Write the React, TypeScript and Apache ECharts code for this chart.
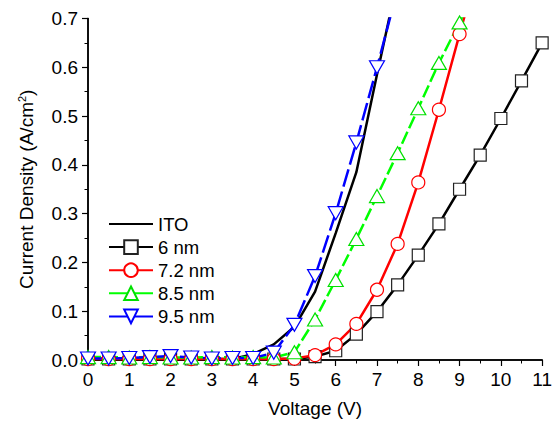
import React, { useEffect, useRef } from "react";
import * as echarts from "echarts";

const voltage = [0, 0.5, 1, 1.5, 2, 2.5, 3, 3.5, 4, 4.5, 5, 5.5, 6, 6.5, 7, 7.5, 8, 8.5, 9, 9.5, 10, 10.5, 11];

const ito = [0.001, 0.001, 0.001, 0.001, 0.001, 0.001, 0.001, 0.002, 0.012, 0.032, 0.068, 0.14, 0.26, 0.385, 0.585, 0.78];
const nm6 = [0.002, 0.002, 0.002, 0.002, 0.002, 0.002, 0.002, 0.002, 0.002, 0.002, 0.002, 0.007, 0.019, 0.053, 0.099, 0.154, 0.215, 0.279, 0.35, 0.42, 0.495, 0.572, 0.65];
const nm72 = [0.002, 0.002, 0.002, 0.002, 0.002, 0.002, 0.002, 0.002, 0.002, 0.002, 0.003, 0.01, 0.032, 0.074, 0.144, 0.238, 0.364, 0.513, 0.668, 0.82];
const nm85 = [0.006, 0.006, 0.005, 0.006, 0.005, 0.005, 0.006, 0.005, 0.006, 0.005, 0.016, 0.083, 0.164, 0.248, 0.336, 0.424, 0.516, 0.609, 0.692, 0.78];
const nm95 = [0.003, 0.003, 0.004, 0.006, 0.008, 0.005, 0.003, 0.004, 0.004, 0.015, 0.072, 0.172, 0.301, 0.446, 0.6, 0.76];

const legendNames = ["ITO", "6 nm", "7.2 nm", "8.5 nm", "9.5 nm"];

const pair = (vals: number[]) => vals.map((v, i) => [voltage[i], v]);

export default function App() {
  const ref = useRef<HTMLDivElement>(null);
  useEffect(() => {
    if (!ref.current) return;
    const chart = echarts.init(ref.current, undefined, { renderer: "svg" });
    const font = "Liberation Sans, Arial, sans-serif";
    const fs = 19;
    const axisLine = { show: true, lineStyle: { color: "#000", width: 1.5 } };
    chart.setOption({
      animation: false,
      textStyle: { fontFamily: font },
      grid: { left: 88, right: 8, top: 18.5, bottom: 66, containLabel: false },
      legend: {
        orient: "vertical",
        left: 103,
        top: 209.5,
        itemWidth: 44,
        itemHeight: 17,
        itemGap: 4.1,
        data: legendNames.map((n) =>
          n === "ITO"
            ? { name: n, itemStyle: { color: "rgba(0,0,0,0)", borderColor: "rgba(0,0,0,0)", borderWidth: 0 } }
            : { name: n }
        ),
        lineStyle: { type: "solid" },
        textStyle: { fontSize: 18.5, color: "#000", fontFamily: font },
        selectedMode: false,
      },
      xAxis: [
        {
          type: "value",
          min: 0,
          max: 11,
          interval: 1,
          position: "bottom",
          name: "Voltage (V)",
          nameLocation: "middle",
          nameGap: 39,
          nameTextStyle: { fontSize: fs, color: "#000", fontFamily: font },
          axisLine,
          axisTick: { show: true, inside: false, length: 6, lineStyle: { color: "#000", width: 1.2 } },
          minorTick: { show: true, splitNumber: 2, length: 3.5, lineStyle: { color: "#000", width: 1 } },
          axisLabel: { fontSize: fs, color: "#000", margin: 10, fontFamily: font },
          splitLine: { show: false },
        },
        {
          type: "value",
          min: 0,
          max: 11,
          interval: 1,
          position: "top",
          axisLine,
          axisTick: { show: true, inside: true, length: 4, lineStyle: { color: "#000", width: 1 } },
          minorTick: { show: true, splitNumber: 2, length: 2.5, lineStyle: { color: "#000", width: 1 } },
          axisLabel: { show: false },
          splitLine: { show: false },
        },
      ],
      yAxis: [
        {
          type: "value",
          min: 0,
          max: 0.7,
          interval: 0.1,
          position: "left",
          name: "Current Density (A/cm{sup|2})",
          nameLocation: "middle",
          nameGap: 52,
          nameTextStyle: {
            fontSize: fs,
            color: "#000",
            fontFamily: font,
            rich: { sup: { fontSize: 11, verticalAlign: "top", padding: [0, 0, 9, 0], color: "#000", fontFamily: font } },
          },
          axisLine,
          axisTick: { show: true, inside: false, length: 6, lineStyle: { color: "#000", width: 1.2 } },
          minorTick: { show: true, splitNumber: 2, length: 3.5, lineStyle: { color: "#000", width: 1 } },
          axisLabel: { fontSize: fs, color: "#000", margin: 10, fontFamily: font, formatter: (v: number) => v.toFixed(1) },
          splitLine: { show: false },
        },
        {
          type: "value",
          min: 0,
          max: 0.7,
          interval: 0.1,
          position: "right",
          axisLine,
          axisTick: { show: true, inside: true, length: 5, lineStyle: { color: "#000", width: 1 } },
          minorTick: { show: true, splitNumber: 2, length: 3, lineStyle: { color: "#000", width: 1 } },
          axisLabel: { show: false },
          splitLine: { show: false },
        },
      ],
      series: [
        {
          name: "ITO",
          type: "line",
          data: pair(ito),
          symbol: "none",
          lineStyle: { color: "#000", width: 2.5 },
          itemStyle: { color: "#000" },
        },
        {
          name: "6 nm",
          type: "line",
          data: pair(nm6),
          symbol: "rect",
          symbolSize: 12,
          lineStyle: { color: "#000", width: 2.5 },
          itemStyle: { color: "#fff", borderColor: "#222", borderWidth: 1.2 },
        },
        {
          name: "7.2 nm",
          type: "line",
          data: pair(nm72),
          symbol: "circle",
          symbolSize: 13,
          lineStyle: { color: "#ff0000", width: 2.5 },
          itemStyle: { color: "#fff", borderColor: "#ff0000", borderWidth: 1.2 },
        },
        {
          name: "8.5 nm",
          type: "line",
          data: pair(nm85),
          symbol: "triangle",
          symbolSize: [15, 13],
          lineStyle: { color: "#00ff00", width: 2.5, type: [13, 4] },
          itemStyle: { color: "#fff", borderColor: "#00e000", borderWidth: 1.2 },
        },
        {
          name: "9.5 nm",
          type: "line",
          data: pair(nm95),
          symbol: "triangle",
          symbolRotate: 180,
          symbolSize: [15, 13],
          lineStyle: { color: "#0000ff", width: 2.5, type: [18, 5] },
          itemStyle: { color: "#fff", borderColor: "#0000ff", borderWidth: 1.2 },
        },
      ],
    });
    return () => chart.dispose();
  }, []);
  return <div ref={ref} style={{ position: "absolute", left: 0, top: 0, width: 555, height: 426 }} />;
}
